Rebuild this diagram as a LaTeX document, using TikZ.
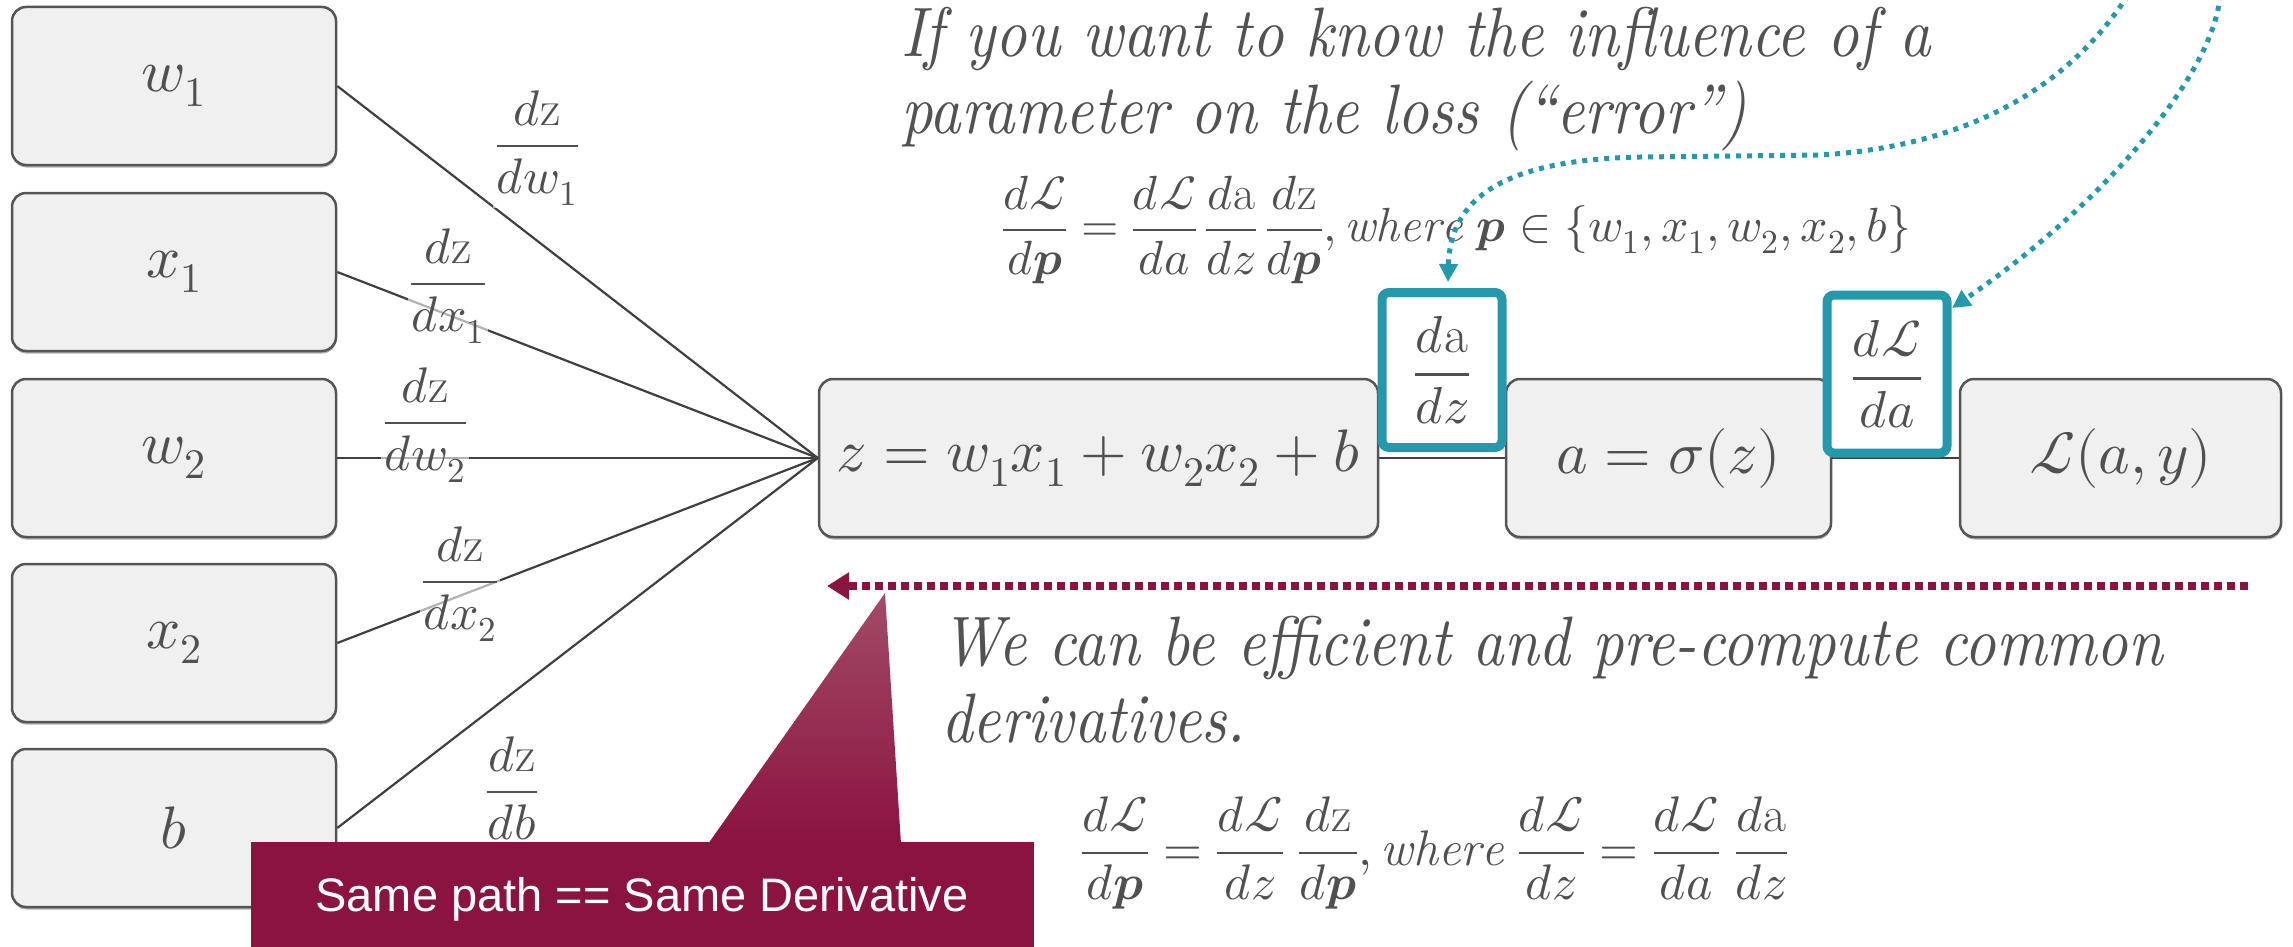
\documentclass[tikz,border=0pt]{standalone}
\usepackage{fontspec}
\usepackage{unicode-math}
\setmathfont{Latin Modern Math}
\newfontfamily\calloutfont{Liberation Sans}
\newfontfamily\lmit{lmroman10-italic.otf}[FakeStretch=0.88]
\usetikzlibrary{arrows.meta,calc,shadows}
\definecolor{txtgray}{HTML}{525252}
\definecolor{mathgray}{HTML}{505050}
\definecolor{linegray}{HTML}{404040}
\definecolor{boxfill}{HTML}{F0F0F0}
\definecolor{boxline}{HTML}{555555}
\definecolor{tealc}{HTML}{2599AC}
\definecolor{maroonc}{HTML}{8B1340}
\definecolor{maroonlight}{HTML}{A24B66}
\begin{document}
\begin{tikzpicture}[x=1pt,y=-1pt,
  nodebox/.style={draw=boxline, line width=2.5pt, fill=boxfill, rounded corners=14pt,
    inner sep=0pt, text=mathgray, font=\fontsize{60}{70}\selectfont,
    drop shadow={shadow xshift=0.5pt, shadow yshift=-2.5pt, opacity=0.3, fill=black}},
  leftbox/.style={nodebox, minimum width=324pt, minimum height=158pt},
  fan/.style={draw=linegray, line width=2.2pt},
  fanlabel/.style={fill=white, fill opacity=0.6, text opacity=1, text=mathgray, inner sep=2pt,
    font=\fontsize{50}{58}\selectfont},
  tealbox/.style={draw=tealc, line width=9pt, fill=white, rounded corners=7pt, inner sep=0pt,
    minimum width=120pt, text=mathgray, font=\fontsize{52}{60}\selectfont},
  tealarrow/.style={draw=tealc, line width=5pt, dash pattern=on 5pt off 6pt,
    -{Triangle[length=18pt,width=18pt]}},
  italictext/.style={text=txtgray, inner sep=0pt, anchor=base west, font=\lmit\fontsize{70}{80}\selectfont},
  formula/.style={text=mathgray, inner sep=0pt, anchor=west},
]
\useasboundingbox (0,0) rectangle (2293,947);

% left boxes
\node[leftbox] (w1) at (174,86)  {$w_1$};
\node[leftbox] (x1) at (174,272) {$x_1$};
\node[leftbox] (w2) at (174,458) {$w_2$};
\node[leftbox] (x2) at (174,643) {$x_2$};
\node[leftbox] (b)  at (174,828) {$b$};

% chain boxes
\node[nodebox, minimum width=559pt, minimum height=158pt] (z) at (1098.5,458) {$z=w_1x_1+w_2x_2+b$};
\node[nodebox, minimum width=325pt, minimum height=158pt] (a) at (1668.5,458) {$a=\sigma(z)$};
\node[nodebox, minimum width=321pt, minimum height=158pt] (L) at (2120.5,458) {$\mathscr{L}(a,y)$};

% fan edges
\foreach \n in {w1,x1,w2,x2,b} \draw[fan] (\n.east) -- (z.west);
\draw[fan] (z.east) -- (a.west);
\draw[fan] (a.east) -- (L.west);

% fan labels
\node[fanlabel] (lw1) at (537,148) {$\dfrac{d\mathrm{z}}{dw_1}$};
\node[fanlabel] (lx1) at (448,286) {$\dfrac{d\mathrm{z}}{dx_1}$};
\node[fanlabel] (lw2) at (425,425) {$\dfrac{d\mathrm{z}}{dw_2}$};
\node[fanlabel] (lx2) at (460,584) {$\dfrac{d\mathrm{z}}{dx_2}$};
\node[fanlabel] (lb)  at (512,788) {$\dfrac{d\mathrm{z}}{db}$};

% teal boxes
\node[tealbox, minimum height=155pt] (daz) at (1442,370) {$\dfrac{d\mathrm{a}}{dz}$};
\node[tealbox, minimum height=158pt] (dLa) at (1887,374) {$\dfrac{d\mathscr{L}}{da}$};

% top texts
\node[italictext] (t1a) at (901,57)  {If you want to know the influence of a};
\node[italictext] (t1b) at (901,133) {parameter on the loss (“error”)};
\node[formula, font=\fontsize{48}{56}\selectfont] (f1) at (1002,230) {$\dfrac{d\mathscr{L}}{d\symbfit{p}}=\dfrac{d\mathscr{L}}{da}\,\dfrac{d\mathrm{a}}{dz}\,\dfrac{d\mathrm{z}}{d\symbfit{p}},\mathit{where}\;\symbfit{p}\in\{w_1,x_1,w_2,x_2,b\}$};

% teal curves
\coordinate (c1s) at (2128,-5);
\coordinate (c2s) at (2220,-5);
\coordinate (c1e) at (1448,282);
\coordinate (c2e) at (1952,308);
\draw[tealarrow] (c1s) .. controls (2080,70) and (1990,145) .. (1820,155)
   -- (1640,157) .. controls (1500,160) and (1450,200) .. (c1e);
\draw[tealarrow] (c2s) .. controls (2215,70) and (2110,200) .. (c2e);

% bottom texts
\node[italictext] (t2a) at (941,665) {We can be efficient and pre-compute common};
\node[italictext] (t2b) at (941,742) {derivatives.};
\node[formula, font=\fontsize{50}{58}\selectfont] (f2) at (1081,853) {$\dfrac{d\mathscr{L}}{d\symbfit{p}}=\dfrac{d\mathscr{L}}{dz}\;\dfrac{d\mathrm{z}}{d\symbfit{p}},\mathit{where}\;\dfrac{d\mathscr{L}}{dz}=\dfrac{d\mathscr{L}}{da}\;\dfrac{d\mathrm{a}}{dz}$};

% maroon dotted arrow
\coordinate (rs) at (2248,586);
\coordinate (re) at (827,586);
\draw[draw=maroonc, line width=8pt, dash pattern=on 8pt off 5pt,
  -{Triangle[length=22pt,width=26pt]}] (rs) -- (re);

% callout
\shade[top color=maroonlight, bottom color=maroonc] (708,844) -- (885,593) -- (901,844) -- cycle;
\fill[maroonc] (251,842) rectangle (1034,960);
\node[text=white, font=\calloutfont\fontsize{47}{55}\selectfont, inner sep=0pt] (co) at (642,899) {Same path == Same Derivative};
\end{tikzpicture}
\end{document}
